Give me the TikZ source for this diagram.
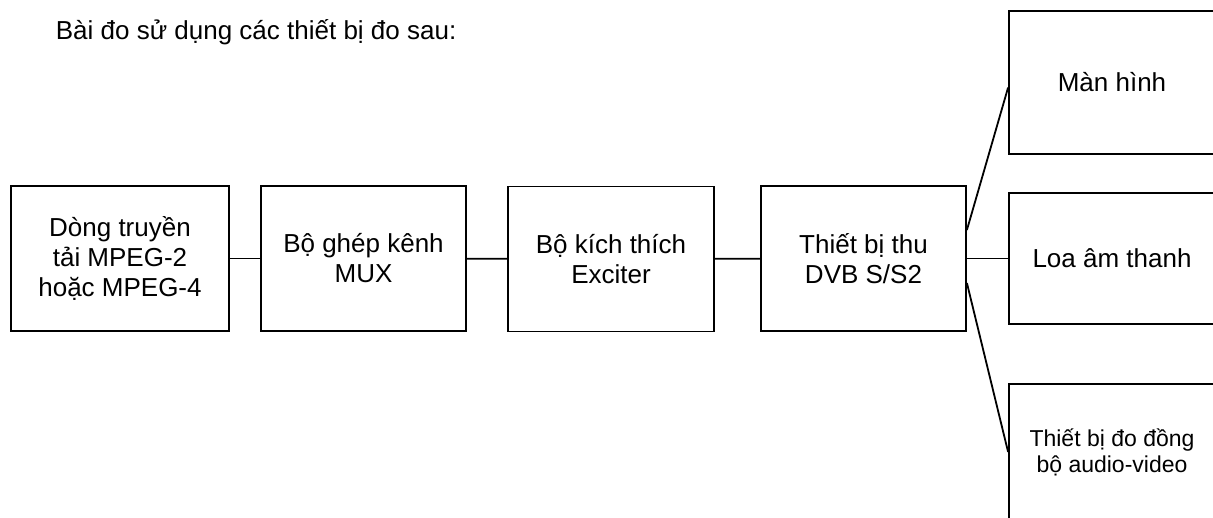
\documentclass[tikz,border=0pt]{standalone}
\usepackage{fontspec}
\setmainfont{Liberation Sans}

\begin{document}
\begin{tikzpicture}[x=1pt,y=-1pt,line width=1.8pt,
		block/.style={draw,rectangle,align=center,inner sep=0pt,minimum height=145pt,font=\fontsize{26}{30}\selectfont},
		outblock/.style={block,minimum width=206pt}]
		\useasboundingbox (0,0) rectangle (1213,517);
		\node[anchor=base west,inner sep=0pt,font=\fontsize{26}{30}\selectfont] (title) at (55,39) {Bài đo sử dụng các thiết bị đo sau:};
		% main chain
		\node[block,minimum width=218pt] (ts) at (120,258.5) {Dòng truyền\\tải MPEG-2\\hoặc MPEG-4};
		\node[block,minimum width=205pt] (mux) at (363.5,258.5) {Bộ ghép kênh\\MUX};
		\node[block,minimum width=206pt] (exc) at (611,259) {Bộ kích thích\\Exciter};
		\node[block,minimum width=205pt] (rx) at (863.5,258.5) {Thiết bị thu\\DVB S/S2};
		% outputs
		\node[outblock,minimum height=143pt] (mh) at (1112,82.5) {Màn hình};
		\node[outblock,minimum height=131pt] (loa) at (1112,258.5) {Loa âm thanh};
		\node[outblock,minimum height=136pt,font=\fontsize{23}{26}\selectfont] (dbo) at (1112,452) {Thiết bị đo đồng\\bộ audio-video};
		\foreach \a/\b in {ts/mux,mux/exc,exc/rx,rx/loa} {
			\draw (\a) -- (\b);
		}
		\draw ([yshift=28.5pt]rx.east) -- ([yshift=-5pt]mh.west);
		\draw ([yshift=-24.5pt]rx.east) -- (dbo.west);
\end{tikzpicture}
\end{document}
